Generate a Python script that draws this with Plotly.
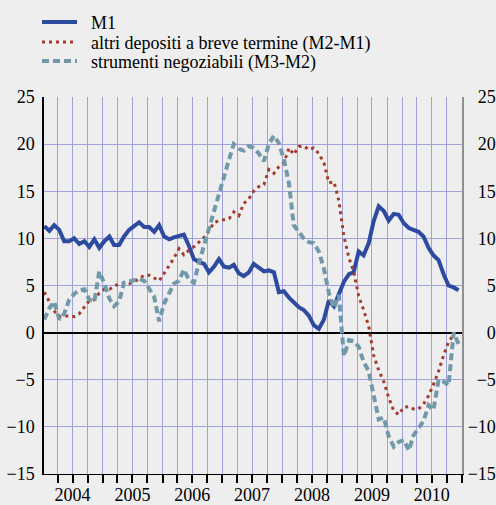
import pandas as pd
import plotly.graph_objects as go

# ---- data (monthly, Jan 2004 - Dec 2010), 12-month % changes ----
months = pd.date_range("2004-01-01", periods=84, freq="MS") + pd.Timedelta(days=10)

m1 = [11.3, 10.8, 11.4, 10.9, 9.7, 9.7, 10.0, 9.4, 9.7, 9.1, 9.9, 9.0,
      9.7, 10.2, 9.3, 9.3, 10.2, 10.9, 11.3, 11.7, 11.2, 11.2, 10.7, 11.4,
      10.2, 9.9, 10.1, 10.3, 10.4, 9.2, 7.8, 7.5, 7.3, 6.4, 7.0, 7.8,
      7.0, 6.9, 7.2, 6.3, 6.0, 6.4, 7.3, 6.9, 6.5, 6.6, 6.4, 4.3,
      4.4, 3.7, 3.2, 2.7, 2.4, 1.8, 0.8, 0.4, 1.4, 3.4, 2.8, 4.2,
      5.4, 6.2, 6.4, 8.6, 8.2, 9.5, 11.8, 13.4, 12.9, 11.9, 12.6, 12.5,
      11.6, 11.1, 10.9, 10.7, 10.2, 9.0, 8.2, 7.7, 6.2, 5.0, 4.8, 4.5]

altri = [4.3, 3.2, 2.3, 1.7, 1.7, 1.8, 1.7, 2.0, 2.7, 3.4, 3.5, 4.2,
         4.6, 4.6, 4.9, 5.2, 5.25, 5.2, 5.4, 5.7, 6.1, 6.1, 5.8, 5.5,
         6.3, 7.1, 7.9, 8.9, 8.25, 8.75, 9.1, 9.6, 10.1, 10.8, 11.7, 11.86,
         12.0, 12.1, 12.8, 12.4, 13.7, 14.2, 15.0, 15.5, 15.7, 17.3, 16.9, 17.6,
         18.0, 19.6, 18.9, 19.75, 19.8, 19.4, 19.6, 19.0, 18.0, 15.9, 16.0, 14.0,
         10.2, 7.9, 6.5, 3.9, 2.4, 0.7, -2.4, -4.0, -5.2, -6.9, -8.3, -8.7,
         -7.9, -7.85, -8.1, -8.1, -7.6, -6.7, -5.5, -4.1, -2.4, -1.0, -0.2]

strumenti = [1.4, 2.6, 3.3, 1.4, 2.0, 3.5, 4.1, 4.5, 4.6, 3.5, 3.3, 6.5,
             5.2, 3.6, 2.8, 3.3, 5.3, 5.4, 5.6, 5.7, 5.5, 4.6, 3.8, 1.2,
             3.1, 4.2, 5.2, 5.5, 6.7, 5.6, 5.3, 7.4, 9.3, 11.0, 12.8, 14.5,
             16.5, 18.4, 20.0, 19.5, 19.3, 19.8, 19.6, 19.0, 18.2, 20.0, 20.9, 20.1,
             18.4, 15.8, 11.4, 10.6, 10.0, 9.6, 9.5, 8.6, 6.8, 4.2, 2.6, 4.0,
             -2.5, -0.8, -0.9, -1.5, -3.1, -4.1, -6.4, -9.2, -9.0, -11.0, -12.1, -11.6,
             -11.4, -12.5, -10.9, -10.1, -9.4, -7.7, -8.2, -5.0, -5.2, -5.6, 0.0, -1.2]

years = [2004, 2005, 2006, 2007, 2008, 2009, 2010]
year_labels = [str(y) for y in years]
series_names = ["M1", "altri depositi a breve termine (M2-M1)", "strumenti negoziabili (M3-M2)"]

# ---- styling ----
BG = "#eeeeee"
GRID = "#a0a0da"
FONT = "'Liberation Serif', 'Times New Roman', Times, serif"
FS = 18
C_M1 = "#2c4a9f"
C_ALT = "#a63a2c"
C_STR = "#7199aa"

year_mid = [f"{y}-07-01" for y in years]
quarters = [f"{y}-{m:02d}-01" for y in years + [2011] for m in (1, 4, 7, 10)]

fig = go.Figure()
fig.add_trace(go.Scatter(x=months, y=m1, mode="lines", name="\u00a0\u00a0" + series_names[0],
                         line=dict(color=C_M1, width=4), legend="legend"))
fig.add_trace(go.Scatter(x=months[:len(altri)], y=altri, mode="lines", name="\u00a0\u00a0" + series_names[1],
                         line=dict(color=C_ALT, width=3, dash="3px,4px"), legend="legend2"))
fig.add_trace(go.Scatter(x=months, y=strumenti, mode="lines", name="\u00a0\u00a0" + series_names[2],
                         line=dict(color=C_STR, width=4, dash="7px,4px"), legend="legend3"))
# dummy trace so the right-hand axis is drawn
fig.add_trace(go.Scatter(x=[None], y=[None], yaxis="y2", showlegend=False, hoverinfo="skip"))

leg_common = dict(x=-0.0167, xanchor="left", yanchor="middle",
                  bgcolor="rgba(0,0,0,0)", itemwidth=35,
                  font=dict(family=FONT, size=FS, color="black"))

fig.update_layout(
    width=496, height=505, autosize=False,
    margin=dict(l=44, r=34, t=97, b=31, autoexpand=False),
    paper_bgcolor=BG, plot_bgcolor=BG,
    font=dict(family=FONT, size=FS, color="black"),
    showlegend=True,
    legend=dict(y=1.198, **leg_common),
    legend2=dict(y=1.1451, **leg_common),
    legend3=dict(y=1.095, **leg_common),
    xaxis=dict(
        type="date", range=["2004-01-09", "2011-01-01"],
        tickmode="array", tickvals=year_mid, ticktext=year_labels,
        ticks="", showgrid=False, zeroline=False,
        showline=True, linecolor="black", linewidth=1,
        ticklabelstandoff=4,
        tickfont=dict(family=FONT, size=FS, color="black"),
        minor=dict(tickmode="array", tickvals=quarters, ticks="outside", ticklen=8,
                   tickcolor="black", tickwidth=1.5, showgrid=True,
                   gridcolor=GRID, gridwidth=1),
    ),
    yaxis=dict(
        range=[-15, 25], tickmode="linear", tick0=-15, dtick=5,
        showgrid=True, gridcolor=GRID, gridwidth=1,
        zeroline=True, zerolinecolor="black", zerolinewidth=1.5,
        showline=True, linecolor="black", linewidth=1.5,
        ticks="", ticklabelstandoff=4,
        tickfont=dict(family=FONT, size=FS, color="black"),
    ),
    yaxis2=dict(
        range=[-15, 25], tickmode="linear", tick0=-15, dtick=5,
        overlaying="y", side="right", showgrid=False, zeroline=False,
        showline=True, linecolor="#909090", linewidth=1.5,
        ticks="", ticklabelposition="inside", ticklabelstandoff=-33,
        ticklabeloverflow="allow",
        tickfont=dict(family=FONT, size=FS, color="black"),
    ),
)

fig.write_html("out.html", config={"displayModeBar": False},
               post_script="document.body.style.margin='0px';")
